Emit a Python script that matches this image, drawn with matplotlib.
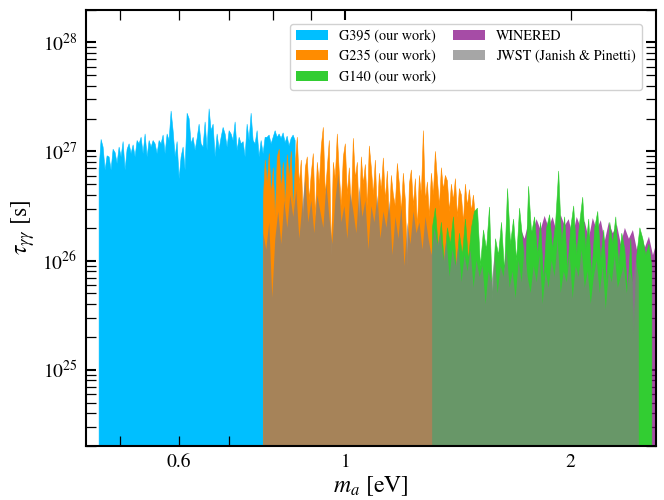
import numpy as np
import matplotlib
matplotlib.use("Agg")
import matplotlib.pyplot as plt
from matplotlib.patches import Patch
from matplotlib.ticker import FixedLocator, FixedFormatter, LogLocator, NullFormatter

plt.rcParams["font.family"] = ["STIXGeneral", "DejaVu Serif"]
plt.rcParams["mathtext.fontset"] = "stix"

# mass range covered by each data set [eV]
g395_range = (0.469, 0.857)
g235_range = (0.777, 1.492)
g140_range = (1.307, 2.567)
jwst_range = (0.777, 2.466)
winered_range = (1.714, 2.64)

# log10(tau / s), evenly spaced in log(m_a)
g395_logtau = [
    26.84, 27.11, 27.04, 26.83, 26.96, 26.95, 26.83, 27.02, 26.99, 26.89,
    27.04, 26.95, 27.09, 26.83, 27.02, 27.07, 26.98, 27.06, 26.95, 27.10,
    27.07, 27.13, 26.98, 27.16, 26.95, 27.10, 27.04, 27.10, 27.07, 26.98,
    27.10, 27.07, 27.15, 26.98, 27.16, 27.10, 27.37, 27.19, 26.95, 27.09,
    26.75, 26.95, 27.04, 26.83, 27.35, 27.30, 27.07, 27.13, 27.01, 27.12,
    27.25, 27.07, 27.04, 27.27, 27.01, 27.39, 27.19, 27.25, 26.95, 27.16,
    27.02, 27.13, 27.22, 27.16, 27.04, 27.19, 27.16, 27.10, 27.27, 27.01,
    27.13, 27.07, 27.09, 26.95, 27.25, 27.10, 27.35, 27.10, 27.07, 27.19,
    26.95, 27.10, 26.98, 27.13, 27.13, 27.15, 27.07, 27.13, 27.19, 27.13,
    27.16, 27.12, 27.17, 27.08, 27.14, 27.05, 27.12, 27.15, 27.10,
]
g235_logtau = [
    26.55, 26.92, 26.70, 26.98, 26.60, 26.85, 26.40, 26.95, 27.02, 26.65,
    26.90, 26.50, 26.97, 26.75, 27.00, 26.45, 26.88, 27.13, 26.70, 26.92,
    26.35, 26.85, 26.95, 26.55, 26.80, 26.98, 26.40, 26.90, 26.70, 27.05,
    27.22, 26.60, 26.85, 27.10, 26.05, 26.90, 26.75, 27.16, 26.80, 26.50,
    26.95, 27.07, 26.60, 26.85, 26.45, 27.12, 26.75, 26.90, 26.30, 26.95,
    26.70, 26.88, 26.50, 27.05, 26.85, 26.60, 26.92, 26.40, 26.80, 26.65,
    26.94, 26.55, 26.82, 26.35, 26.78, 26.60, 26.50, 26.89, 26.70, 26.45,
    26.80, 26.55, 25.95, 26.70, 26.83, 26.50, 26.75, 26.30, 26.78, 26.60,
    27.19, 26.55, 26.72, 26.40, 26.80, 26.60, 27.00, 26.75, 26.50, 26.85,
    26.65, 26.78, 26.73, 26.45, 26.70, 26.55, 26.75, 26.40, 26.66, 26.60,
    26.35, 26.70, 26.50, 26.65, 26.45, 26.60, 26.40,
]
g140_logtau = [
    26.30, 26.48, 26.10, 26.35, 25.95, 26.30, 26.15, 26.40, 25.90, 26.25,
    26.05, 26.38, 26.00, 26.30, 26.45, 26.48, 25.95, 26.28, 26.10, 26.49,
    25.65, 26.20, 26.05, 26.35, 25.90, 26.66, 26.15, 26.38, 26.00, 26.48,
    26.20, 25.85, 26.68, 26.25, 26.40, 26.05, 26.35, 25.80, 26.30, 26.42,
    26.10, 26.35, 26.82, 26.15, 26.40, 25.90, 26.30, 26.50, 26.05, 26.35,
    26.58, 26.10, 26.38, 25.85, 26.30, 26.45, 26.00, 26.28, 25.75, 26.35,
    26.15, 26.40, 25.95, 26.25, 26.10, 25.70, 26.20, 25.33, 26.05, 26.30,
    26.20, 26.05, 26.15, 25.95,
]
jwst_logtau = [
    26.25, 26.10, 26.35, 25.66, 26.20, 26.45, 26.15, 26.55, 26.30, 26.60,
    26.40, 26.65, 26.20, 26.50, 26.75, 26.35, 26.55, 26.25, 26.60, 26.45,
    26.30, 26.70, 26.40, 26.15, 26.55, 26.80, 26.35, 26.50, 26.20, 26.62,
    26.45, 26.25, 26.68, 26.40, 26.55, 26.10, 26.50, 26.35, 26.60, 26.20,
    26.45, 26.30, 26.55, 26.05, 26.40, 26.20, 26.50, 25.95, 26.35, 26.15,
    26.45, 26.25, 26.35, 26.10, 26.40, 26.20, 26.05, 26.30, 26.15, 26.25,
    26.00, 26.20, 25.85, 26.10, 25.95, 26.15, 25.80, 26.05, 25.90, 26.10,
    25.75, 26.00, 25.85, 25.95, 25.60, 25.90, 25.80, 26.05, 25.70, 25.95,
    25.85, 26.10, 25.75, 25.90, 25.65, 26.00, 25.80, 26.15, 25.85, 25.70,
    25.95, 25.80, 26.05, 25.60, 25.90, 25.75, 26.00, 25.85, 26.20, 25.70,
    25.90, 25.80, 26.05, 25.65, 25.95, 25.85, 26.10, 25.75, 25.90, 25.60,
    25.85, 26.00, 25.70, 25.95, 25.55, 25.90, 25.80, 26.05, 25.75, 25.85,
    25.95, 25.70, 25.90, 25.80, 26.00, 25.85,
]
winered_logtau = [
    26.30, 26.20, 26.35, 26.25, 26.38, 26.28, 26.41, 26.30, 26.40, 26.26,
    26.42, 26.32, 26.38, 26.22, 26.40, 26.30, 26.36, 26.20, 26.39, 26.28,
    26.37, 26.18, 26.35, 26.25, 26.33, 26.15, 26.30, 26.20, 26.28, 26.10,
    26.25, 26.12, 26.22, 26.05, 26.18, 26.10,
]

labels = ["G395 (our work)", "G235 (our work)", "G140 (our work)",
          "WINERED", "JWST (Janish & Pinetti)"]

fig = plt.figure(figsize=(6.64, 5), dpi=100)
ax = fig.add_axes([0.129, 0.108, 0.859, 0.873])


def spectrum(rng, logtau, **kw):
    m = np.geomspace(rng[0], rng[1], len(logtau))
    ax.fill_between(m, 1e20, 10 ** np.array(logtau), **kw)


spectrum(g395_range, g395_logtau, color="deepskyblue", lw=0.4, zorder=1)
spectrum(g235_range, g235_logtau, color="darkorange", lw=0.4, zorder=2)
spectrum(winered_range, winered_logtau, facecolor="purple", alpha=0.7, lw=0, zorder=3)
spectrum(g140_range, g140_logtau, color="limegreen", lw=0.4, zorder=4)
spectrum(jwst_range, jwst_logtau, facecolor="grey", alpha=0.7, lw=0, zorder=5)

ax.set_xscale("log")
ax.set_yscale("log")
ax.set_xlim(0.45, 2.6)
ax.set_ylim(2e24, 2e28)

ax.xaxis.set_major_locator(FixedLocator([1]))
ax.xaxis.set_major_formatter(FixedFormatter(["1"]))
ax.xaxis.set_minor_locator(FixedLocator([0.5, 0.6, 0.7, 0.8, 0.9, 2]))
ax.xaxis.set_minor_formatter(FixedFormatter(["", "0.6", "", "", "", "2"]))
ax.yaxis.set_major_locator(LogLocator(base=10))
ax.yaxis.set_minor_locator(LogLocator(base=10, subs=np.arange(2, 10)))
ax.yaxis.set_minor_formatter(NullFormatter())

ax.tick_params(which="both", direction="in", top=True, right=True,
               labelsize=14, length=7)
ax.tick_params(which="major", width=1.5)
ax.tick_params(which="minor", width=0.9)
ax.tick_params(axis="x", which="both", pad=6)
ax.tick_params(axis="y", which="both", pad=6)
for s in ax.spines.values():
    s.set_linewidth(1.5)
    s.set_zorder(10)

ax.set_xlabel(r"$m_a$ [eV]", fontsize=17, labelpad=2)
ax.set_ylabel(r"$\tau_{\gamma\gamma}$ [s]", fontsize=17, labelpad=4)

handles = [
    Patch(facecolor="deepskyblue", lw=0),
    Patch(facecolor="darkorange", lw=0),
    Patch(facecolor="limegreen", lw=0),
    Patch(facecolor="purple", alpha=0.7, lw=0),
    Patch(facecolor="grey", alpha=0.7, lw=0),
]
ax.legend(handles, labels, loc="upper right", ncol=2, fontsize=10.3,
          handlelength=2.2, columnspacing=1.2, borderaxespad=1.0,
          labelspacing=0.5, framealpha=0.9)

fig.savefig("out.png", dpi=100)
